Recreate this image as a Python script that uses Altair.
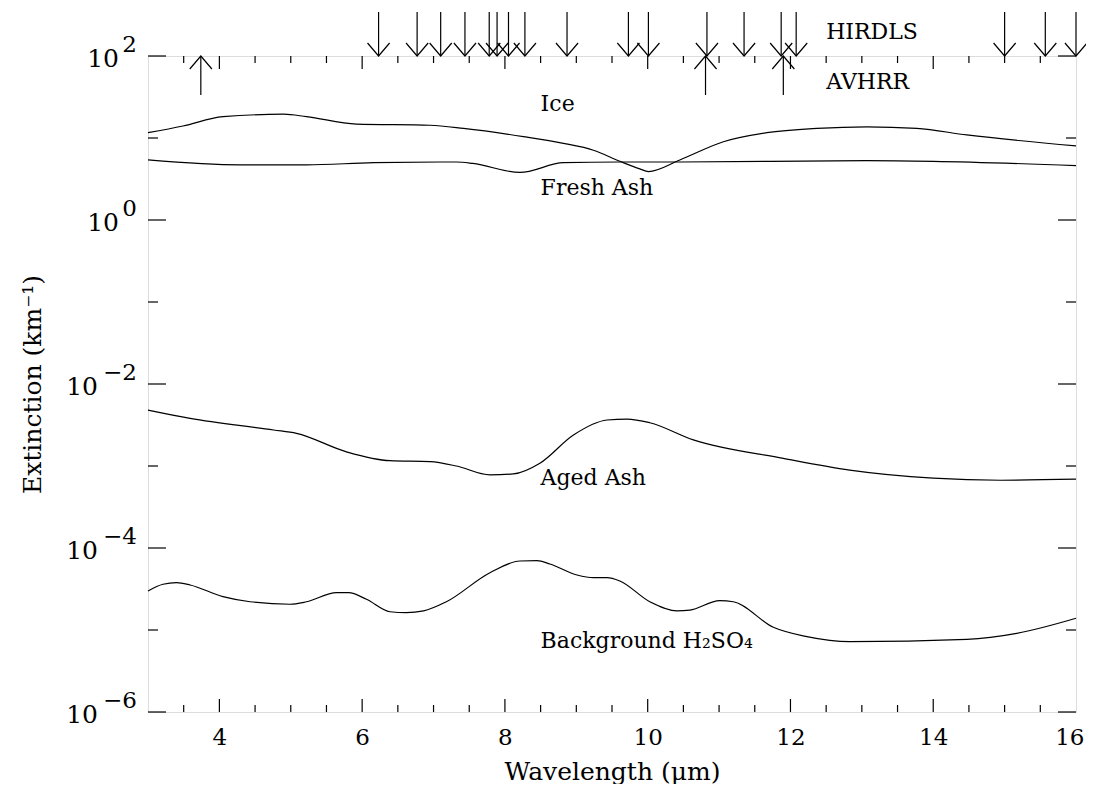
import altair as alt
import pandas as pd

# ---- curve data (wavelength in micron, extinction in km^-1) ----
ice_wl = [3.0, 3.49, 4.05, 4.90, 5.22, 5.92, 6.95, 7.42, 8.26, 8.82, 9.24, 9.61, 9.89, 10.01,
          10.45, 11.06, 11.67, 12.37, 13.07, 13.77, 14.47, 16.0]
ice_ext = [11.6, 14.0, 18.2, 19.5, 18.2, 14.8, 14.3, 13.1, 10.4, 8.6, 7.1, 5.2, 4.2, 3.9,
           5.4, 9.0, 11.6, 13.1, 13.7, 13.1, 10.9, 8.0]

fresh_wl = [3.0, 4.29, 5.22, 6.16, 7.32, 7.55, 8.21, 8.82, 9.61, 10.45, 13.07, 14.0, 16.0]
fresh_ext = [5.4, 4.7, 4.7, 5.0, 5.1, 4.9, 3.8, 5.0, 5.1, 5.1, 5.3, 5.2, 4.6]

aged_wl = [3.0, 3.59, 4.76, 5.08, 5.78, 6.39, 6.95, 7.32, 7.79, 8.12, 8.49, 8.96, 9.43, 9.71,
           10.03, 10.64, 11.90, 12.83, 14.0, 14.94, 16.0]
aged_ext = [4.8e-3, 3.8e-3, 2.75e-3, 2.5e-3, 1.49e-3, 1.16e-3, 1.13e-3, 1.0e-3, 7.8e-4, 8.0e-4,
            1.08e-3, 2.39e-3, 3.64e-3, 3.74e-3, 3.37e-3, 2.08e-3, 1.24e-3, 8.9e-4, 7.1e-4,
            6.7e-4, 6.9e-4]

bg_wl = [3.0, 3.21, 3.40, 3.59, 4.05, 4.43, 4.99, 5.22, 5.64, 5.81, 6.06, 6.39, 6.62, 6.86,
         7.18, 7.79, 8.21, 8.45, 8.63, 9.01, 9.24, 9.43, 9.61, 10.03, 10.41, 10.59, 11.01,
         11.20, 11.76, 12.23, 12.83, 14.47, 15.17, 16.0]
bg_ext = [2.99e-5, 3.61e-5, 3.78e-5, 3.54e-5, 2.55e-5, 2.21e-5, 2.06e-5, 2.21e-5, 2.85e-5,
          2.85e-5, 2.37e-5, 1.67e-5, 1.63e-5, 1.71e-5, 2.21e-5, 5.0e-5, 6.94e-5, 7.0e-5,
          6.38e-5, 4.69e-5, 4.35e-5, 4.35e-5, 3.96e-5, 2.21e-5, 1.71e-5, 1.75e-5, 2.28e-5,
          2.21e-5, 1.08e-5, 8.3e-6, 7.2e-6, 7.7e-6, 9.1e-6, 1.39e-5]

# ---- instrument channels ----
hirdls_wl = [6.23, 6.77, 7.10, 7.44, 7.78, 7.89, 8.05, 8.28, 8.87, 9.73, 10.01, 10.83,
             11.35, 11.87, 12.08, 15.0, 15.57, 16.0]
avhrr_wl = [3.74, 10.81, 11.9]

# ---- annotations ----
label_text = ["Ice", "Fresh Ash", "Aged Ash", "Background H\u2082SO\u2084", "HIRDLS", "AVHRR"]
label_wl = [8.5, 8.5, 8.5, 8.5, 12.5, 12.5]
label_ext = [26, 2.45, 7.1e-4, 7.3e-6, 195, 48]

# ---- axis ticks ----
x_labels = [4, 6, 8, 10, 12, 14, 16]
x_major = [4, 6, 8, 10, 12, 14]
x_minor = [3.5, 4.5, 5, 5.5, 6.5, 7, 7.5, 8.5, 9, 9.5, 10.5, 11, 11.5, 12.5, 13, 13.5,
           14.5, 15, 15.5]
y_major = [1e2, 1, 1e-2, 1e-4, 1e-6]
y_minor = [10, 0.1, 1e-3, 1e-5]
y_exp = [2, 0, -2, -4, -6]

FONT = "DejaVu Serif"
W, H = 928, 656

curves = pd.concat([
    pd.DataFrame({"wl": ice_wl, "ext": ice_ext, "series": "Ice"}),
    pd.DataFrame({"wl": fresh_wl, "ext": fresh_ext, "series": "Fresh Ash"}),
    pd.DataFrame({"wl": aged_wl, "ext": aged_ext, "series": "Aged Ash"}),
    pd.DataFrame({"wl": bg_wl, "ext": bg_ext, "series": "Background"}),
], ignore_index=True)

xscale = alt.Scale(domain=[3, 16], nice=False, zero=False)
yscale = alt.Scale(type="log", domain=[1e-6, 1e2], nice=False)

lines = alt.Chart(curves).mark_line(color="black", strokeWidth=1.2, interpolate="monotone").encode(
    x=alt.X("wl:Q", scale=xscale, axis=alt.Axis(
        values=x_labels, format="d", ticks=False, domain=False, grid=False,
        labelFlush=True, labelFlushOffset=8,
        labelFont=FONT, labelFontSize=23, labelColor="black", labelPadding=14,
        title="Wavelength (\u03bcm)", titleFont=FONT, titleFontSize=25,
        titleFontWeight="normal", titleColor="black", titlePadding=10)),
    y=alt.Y("ext:Q", scale=yscale, axis=alt.Axis(
        labels=False, ticks=False, domain=False, grid=False,
        title="Extinction (km\u207b\u00b9)", titleFont=FONT, titleFontSize=25,
        titleFontWeight="normal", titleColor="black", titlePadding=103)),
    detail="series:N",
)

xmaj = pd.DataFrame({"v": x_major})
xmin = pd.DataFrame({"v": x_minor})
ymaj = pd.DataFrame({"v": y_major})
ymin = pd.DataFrame({"v": y_minor})

def xticks(df, length):
    b = alt.Chart(df).mark_rule(color="black", strokeWidth=1.2).encode(
        x=alt.X("v:Q", scale=xscale), y=alt.value(H), y2=alt.value(H - length))
    t = alt.Chart(df).mark_rule(color="black", strokeWidth=1.2).encode(
        x=alt.X("v:Q", scale=xscale), y=alt.value(0), y2=alt.value(length))
    return [b, t]

def yticks(df, length):
    l = alt.Chart(df).mark_rule(color="black", strokeWidth=1.2).encode(
        y=alt.Y("v:Q", scale=yscale), x=alt.value(0), x2=alt.value(length))
    r = alt.Chart(df).mark_rule(color="black", strokeWidth=1.2).encode(
        y=alt.Y("v:Q", scale=yscale), x=alt.value(W), x2=alt.value(W - length))
    return [l, r]

ticks = xticks(xmaj, 13) + xticks(xmin, 7) + yticks(ymaj, 18) + yticks(ymin, 10)

# y tick labels: "10" plus raised exponent
ylab = pd.DataFrame({"v": y_major, "e": y_exp})
ylab["es"] = [str(e).replace("-", "\u2212") for e in y_exp]

ten_pos = alt.Chart(ylab).transform_filter("datum.e >= 0").mark_text(
    align="right", baseline="alphabetic", font=FONT, fontSize=25, dy=11, color="black"
).encode(y=alt.Y("v:Q", scale=yscale), x=alt.value(-29), text=alt.value("10"))
ten_neg = alt.Chart(ylab).transform_filter("datum.e < 0").mark_text(
    align="right", baseline="alphabetic", font=FONT, fontSize=25, dy=11, color="black"
).encode(y=alt.Y("v:Q", scale=yscale), x=alt.value(-50), text=alt.value("10"))
expo = alt.Chart(ylab).mark_text(
    align="right", baseline="alphabetic", font=FONT, fontSize=23, dy=-4, color="black"
).encode(y=alt.Y("v:Q", scale=yscale), x=alt.value(-11), text="es:N")

# arrows
hd = pd.DataFrame({"wl": hirdls_wl})
av = pd.DataFrame({"wl": avhrr_wl})
h_shaft = alt.Chart(hd).mark_rule(color="black", strokeWidth=1.2).encode(
    x=alt.X("wl:Q", scale=xscale), y=alt.value(-44), y2=alt.value(0))
h_head = alt.Chart(hd).mark_point(
    shape="M-0.85,-1L0,0L0.85,-1", size=676, filled=False, color="black",
    strokeWidth=1.2, opacity=1).encode(x=alt.X("wl:Q", scale=xscale), y=alt.value(0))
a_shaft = alt.Chart(av).mark_rule(color="black", strokeWidth=1.2).encode(
    x=alt.X("wl:Q", scale=xscale), y=alt.value(0), y2=alt.value(39))
a_head = alt.Chart(av).mark_point(
    shape="M-0.85,1L0,0L0.85,1", size=676, filled=False, color="black",
    strokeWidth=1.2, opacity=1).encode(x=alt.X("wl:Q", scale=xscale), y=alt.value(0))

labels = alt.Chart(pd.DataFrame({"t": label_text, "wl": label_wl, "ext": label_ext})).mark_text(
    align="left", baseline="middle", font=FONT, fontSize=22, color="black"
).encode(x=alt.X("wl:Q", scale=xscale), y=alt.Y("ext:Q", scale=yscale), text="t:N")

chart = alt.layer(
    lines, *ticks, ten_pos, ten_neg, expo, h_shaft, h_head, a_shaft, a_head, labels
).properties(
    width=W, height=H,
    autosize=alt.AutoSizeParams(type="none"),
    padding={"left": 140, "top": 48, "right": 10, "bottom": 72},
).configure_view(stroke="black", strokeWidth=1.3).configure(background="white")

chart.save("out.html", embed_options={"renderer": "svg", "actions": False})
